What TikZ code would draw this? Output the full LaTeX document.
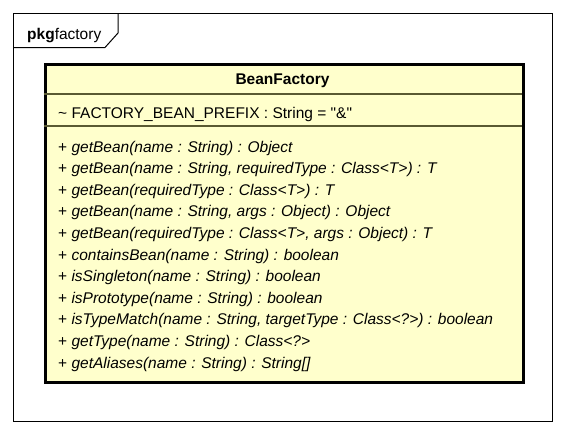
\documentclass[tikz,border=0pt]{standalone}
\usepackage{fontspec}
\setmainfont{Liberation Sans}
\definecolor{classfill}{RGB}{255,255,204}
\definecolor{sepcol}{RGB}{90,90,50}
\begin{document}
\begin{tikzpicture}[x=1pt,y=-1pt,
  member/.style={anchor=base west,inner sep=0pt,font=\fontsize{15.5}{18}\selectfont\itshape},
  attr/.style={anchor=base west,inner sep=0pt,font=\fontsize{15.5}{18}\selectfont},
  title/.style={anchor=base,inner sep=0pt,font=\fontsize{15.5}{18}\selectfont\bfseries},
  sep/.style={draw=sepcol,line width=1.5pt}]
\useasboundingbox (0,0) rectangle (565,434);
% package frame
\draw[line width=1pt] (13.5,13.5) rectangle (552,421.5);
\draw[line width=1pt] (13.5,47.5) -- (105,47.5) -- (118,33) -- (118,13.5);
\node[anchor=base west,inner sep=0pt,font=\fontsize{15.5}{18}\selectfont] (pkg) at (27,39) {\textbf{pkg}factory};
% class box
\node[draw=black,line width=3pt,fill=classfill,minimum width=478pt,minimum height=318pt,inner sep=0pt,anchor=north west] (cls) at (43.5,62.5) {};
\draw[sep] (43.5,94) -- (521.5,94);
\draw[sep] (43.5,126) -- (521.5,126);
\node[title] (t) at (282.5,84) {BeanFactory};
\node[attr] (a1) at (58,118) {\textasciitilde{} FACTORY\_BEAN\_PREFIX : String = \textquotedbl\&\textquotedbl};
\node[member] (m1) at (58,152) {\upshape+ \itshape getBean(name : String) : Object};
\node[member] (m2) at (58,173.6) {\upshape+ \itshape getBean(name : String, requiredType : Class<T>) : T};
\node[member] (m3) at (58,195.2) {\upshape+ \itshape getBean(requiredType : Class<T>) : T};
\node[member] (m4) at (58,216.8) {\upshape+ \itshape getBean(name : String, args : Object) : Object};
\node[member] (m5) at (58,238.4) {\upshape+ \itshape getBean(requiredType : Class<T>, args : Object) : T};
\node[member] (m6) at (58,260) {\upshape+ \itshape containsBean(name : String) : boolean};
\node[member] (m7) at (58,281.6) {\upshape+ \itshape isSingleton(name : String) : boolean};
\node[member] (m8) at (58,303.2) {\upshape+ \itshape isPrototype(name : String) : boolean};
\node[member] (m9) at (58,324.8) {\upshape+ \itshape isTypeMatch(name : String, targetType : Class<?>) : boolean};
\node[member] (m10) at (58,346.4) {\upshape+ \itshape getType(name : String) : Class<?>};
\node[member] (m11) at (58,368) {\upshape+ \itshape getAliases(name : String) : String[]};
\end{tikzpicture}
\end{document}
